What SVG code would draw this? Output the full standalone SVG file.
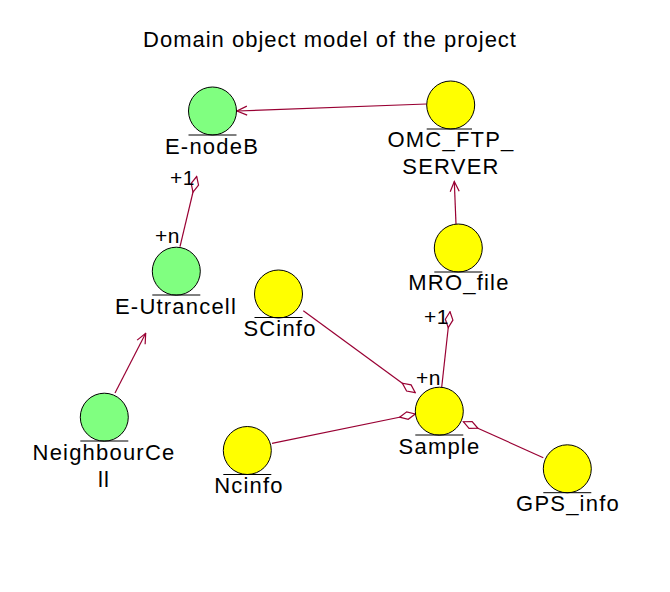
<svg xmlns="http://www.w3.org/2000/svg" width="670" height="592" viewBox="0 0 670 592">
<style>
text{font-family:"Liberation Sans",Arial,sans-serif;fill:#000;text-anchor:middle}
.t{font-size:22px;letter-spacing:1px}
.lb{font-size:22px;letter-spacing:1.2px}
.m{font-size:21px;letter-spacing:0.5px;text-anchor:start}
.g{fill:#80FF80;stroke:#000;stroke-width:1}
.y{fill:#FFFF00;stroke:#000;stroke-width:1}
.ul{stroke:#000;stroke-width:1}
.c{stroke:#990033;stroke-width:1.2;fill:none}
.arr{marker-end:url(#arrow)}
.agg{marker-end:url(#diamond)}
</style>
<defs>
<marker id="arrow" viewBox="-11 -6 12 12" refX="0" refY="0" markerWidth="12" markerHeight="12" markerUnits="userSpaceOnUse" orient="auto">
<path d="M-10,-4.5 L0,0 L-10,4.5" fill="none" stroke="#990033" stroke-width="1.2"/>
</marker>
<marker id="diamond" viewBox="-17 -5 18 10" refX="0" refY="0" markerWidth="18" markerHeight="10" markerUnits="userSpaceOnUse" orient="auto">
<path d="M0,0 L-8,-3.8 L-16,0 L-8,3.8 Z" fill="#fff" stroke="#990033" stroke-width="1.2"/>
</marker>
</defs>
<rect width="670" height="592" fill="#fff"/>
<text class="t" x="330" y="47">Domain object model of the project</text>
<g id="connectors">
<line class="c arr" x1="426.5" y1="104" x2="237" y2="111"/>
<line class="c arr" x1="456" y1="224" x2="454.3" y2="181.5"/>
<line class="c arr" x1="115" y1="393" x2="145.7" y2="333.3"/>
<line class="c agg" x1="180" y1="246.7" x2="196.7" y2="176.5"/>
<line class="c agg" x1="441.7" y1="387.3" x2="450" y2="311.7"/>
<line class="c agg" x1="303.3" y1="310.7" x2="415.3" y2="392.7"/>
<line class="c agg" x1="272" y1="443.3" x2="415.3" y2="414"/>
<line class="c agg" x1="543.3" y1="457.7" x2="463.3" y2="421.7"/>
<text class="m" x="170" y="185">+1</text>
<text class="m" x="155" y="243">+n</text>
<text class="m" x="424" y="324">+1</text>
<text class="m" x="416" y="385">+n</text>
</g>
<g id="enodeb">
<circle class="g" cx="212.5" cy="111" r="24"/>
<line class="ul" x1="188.5" y1="135" x2="236.5" y2="135"/>
<text class="lb" x="212" y="154">E-nodeB</text>
</g>
<g id="omc_ftp_server">
<circle class="y" cx="450.7" cy="105" r="24"/>
<line class="ul" x1="426.7" y1="129" x2="472" y2="129"/>
<text class="lb" x="451" y="147">OMC_FTP_</text>
<text class="lb" x="451" y="174">SERVER</text>
</g>
<g id="mro_file">
<circle class="y" cx="458.3" cy="248" r="24"/>
<line class="ul" x1="434.3" y1="272" x2="482.3" y2="272"/>
<text class="lb" x="459" y="290">MRO_file</text>
</g>
<g id="e_utrancell">
<circle class="g" cx="176.3" cy="271.2" r="24"/>
<line class="ul" x1="152.3" y1="295" x2="200.3" y2="295"/>
<text class="lb" x="176" y="314">E-Utrancell</text>
</g>
<g id="neighbourcell">
<circle class="g" cx="104.3" cy="417.2" r="24"/>
<line class="ul" x1="80.3" y1="441" x2="128.3" y2="441"/>
<text class="lb" x="104" y="460">NeighbourCe</text>
<text class="lb" x="104" y="487">ll</text>
</g>
<g id="scinfo">
<circle class="y" cx="278.5" cy="294" r="24"/>
<line class="ul" x1="254.5" y1="317.5" x2="302.5" y2="317.5"/>
<text class="lb" x="280" y="336">SCinfo</text>
</g>
<g id="ncinfo">
<circle class="y" cx="247.3" cy="450.5" r="24"/>
<line class="ul" x1="223.3" y1="474.5" x2="271.3" y2="474.5"/>
<text class="lb" x="249" y="493">Ncinfo</text>
</g>
<g id="sample">
<circle class="y" cx="439.3" cy="411.2" r="24"/>
<line class="ul" x1="415.3" y1="435" x2="463.3" y2="435"/>
<text class="lb" x="439.5" y="454">Sample</text>
</g>
<g id="gps_info">
<circle class="y" cx="567.3" cy="468.8" r="24"/>
<line class="ul" x1="543.3" y1="492.7" x2="591.3" y2="492.7"/>
<text class="lb" x="568" y="511">GPS_info</text>
</g>
</svg>
